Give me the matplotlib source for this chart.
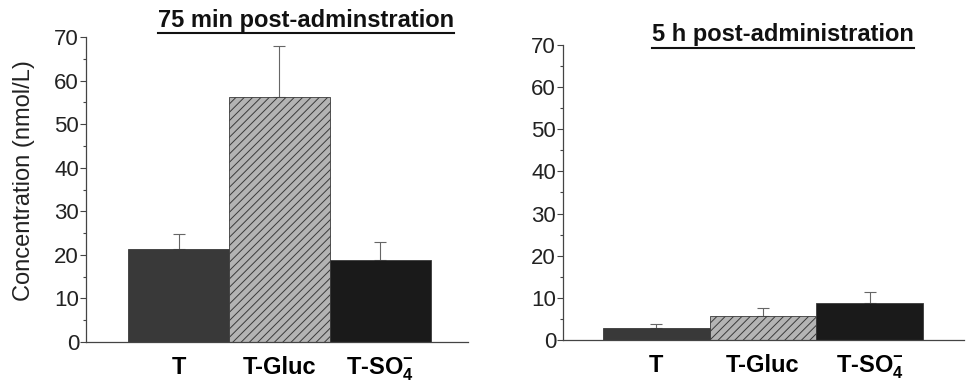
import numpy as np
import matplotlib
matplotlib.use('Agg')
import matplotlib.pyplot as plt
from matplotlib.lines import Line2D
from matplotlib.ticker import MultipleLocator

plt.rcParams['font.family'] = ['Liberation Sans', 'DejaVu Sans']
plt.rcParams['mathtext.fontset'] = 'custom'
plt.rcParams['mathtext.rm'] = 'Liberation Sans:bold'
plt.rcParams['mathtext.bf'] = 'Liberation Sans:bold'
plt.rcParams['mathtext.it'] = 'Liberation Sans:bold'
plt.rcParams['hatch.linewidth'] = 0.7

categories = ['T', 'T-Gluc', r'T-SO$_4^{-}$']
titles = ['75 min post-adminstration', '5 h post-administration']
# mean and upper SD per panel
vals_75min = [21.3, 56.2, 18.8]
err_75min = [3.6, 11.7, 4.1]
vals_5h = [2.9, 5.7, 8.7]
err_5h = [0.8, 2.0, 2.8]

bar_colors = ['#393939', '#b4b4b4', '#1a1a1a']
bar_hatch = ['', '////', '']
axis_col = '#444444'

fig = plt.figure(figsize=(9.68, 3.84), dpi=100)
ax1 = fig.add_axes([0.0888, 0.1094, 0.3946, 0.7942])
ax2 = fig.add_axes([0.5816, 0.1146, 0.4143, 0.7682])

def draw_panel(ax, vals, errs, xlim):
    x = np.arange(len(vals))
    for i in range(len(vals)):
        ax.bar(x[i], vals[i], width=1.0, color=bar_colors[i], edgecolor='#3a3a3a',
               hatch=bar_hatch[i], linewidth=0.6, zorder=2)
    ax.errorbar(x, vals, yerr=[np.zeros(len(vals)), errs], fmt='none',
                ecolor='#666666', elinewidth=0.8, capsize=4, capthick=0.8, zorder=1)
    ax.set_xlim(*xlim)
    ax.set_ylim(0, 70)
    ax.yaxis.set_major_locator(MultipleLocator(10))
    ax.yaxis.set_minor_locator(MultipleLocator(5))
    ax.set_xticks(x)
    ax.set_xticklabels(categories, fontsize=17, fontweight='bold')
    ax.tick_params(axis='x', length=0, pad=10)
    ax.tick_params(axis='y', which='major', length=4, width=0.8, color=axis_col,
                   labelsize=16, pad=1, labelcolor='#222222')
    ax.tick_params(axis='y', which='minor', length=2, width=0.8, color=axis_col)
    for s in ['top', 'right']:
        ax.spines[s].set_visible(False)
    for s in ['left', 'bottom']:
        ax.spines[s].set_color(axis_col)
        ax.spines[s].set_linewidth(0.9)

draw_panel(ax1, vals_75min, err_75min, (-0.92, 2.87))
draw_panel(ax2, vals_5h, err_5h, (-0.87, 2.88))
ax1.set_ylabel('Concentration (nmol/L)', fontsize=17, color='#222222')
ax1.yaxis.set_label_coords(-0.134, 0.53)

# underlined bold titles
title_pos = [(306 / 968, 1 - 20 / 384), (783 / 968, 1 - 35 / 384)]
renderer = fig.canvas.get_renderer()
for (tx, ty), t in zip(title_pos, titles):
    txt = fig.text(tx, ty, t, ha='center', va='center', fontsize=17,
                   fontweight='bold', color='#111111')
    bb = txt.get_window_extent(renderer).transformed(fig.transFigure.inverted())
    uy = bb.y0 - 0.004
    fig.add_artist(Line2D([bb.x0, bb.x1], [uy, uy], color='#111111', lw=1.5,
                          transform=fig.transFigure))

fig.savefig('out.png', dpi=100)
